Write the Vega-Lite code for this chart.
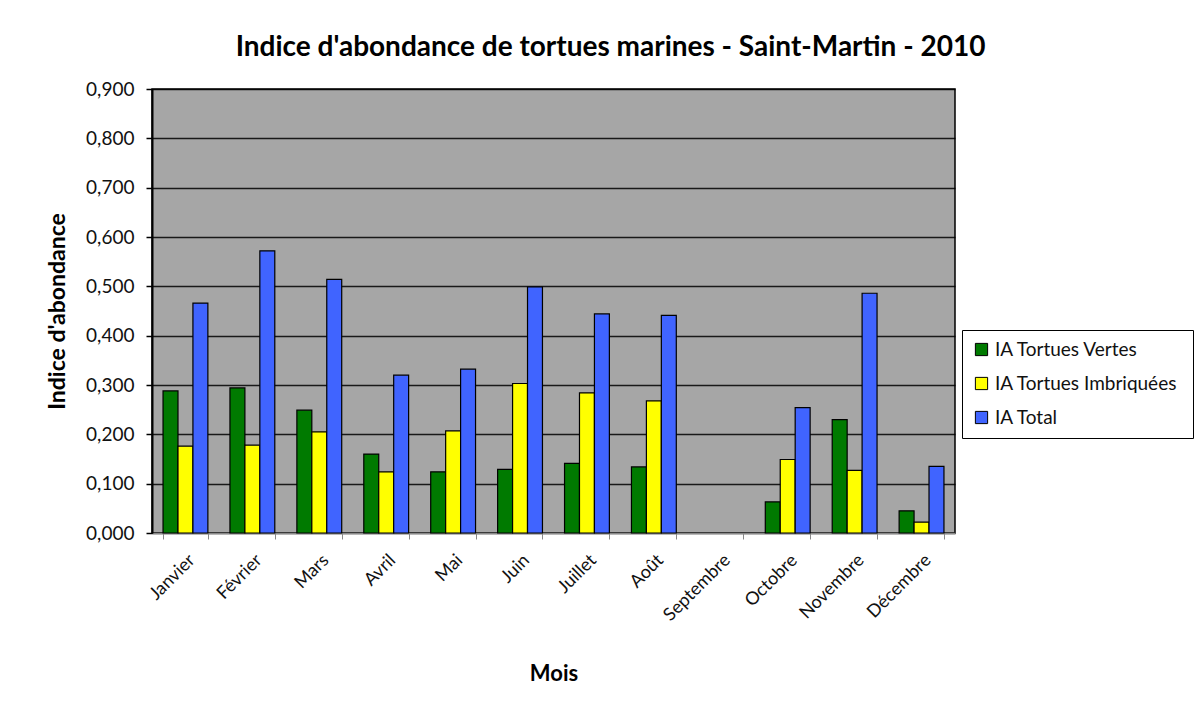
{
  "$schema": "https://vega.github.io/schema/vega-lite/v6.json",
  "width": 803,
  "height": 444,
  "autosize": {"type": "none"},
  "padding": {"left": 152, "top": 89, "right": 241, "bottom": 173},
  "background": "white",
  "title": {
    "text": "Indice d'abondance de tortues marines - Saint-Martin - 2010",
    "font": "Lato",
    "fontSize": 28,
    "fontWeight": "bold",
    "color": "black",
    "anchor": "middle",
    "dx": 57,
    "offset": 18
  },
  "data": {
    "values": [
      {"mois": "Janvier", "serie": "IA Tortues Vertes", "valeur": 0.288},
      {"mois": "Janvier", "serie": "IA Tortues  Imbriquées", "valeur": 0.176},
      {"mois": "Janvier", "serie": "IA Total", "valeur": 0.466},
      {"mois": "Février", "serie": "IA Tortues Vertes", "valeur": 0.294},
      {"mois": "Février", "serie": "IA Tortues  Imbriquées", "valeur": 0.178},
      {"mois": "Février", "serie": "IA Total", "valeur": 0.572},
      {"mois": "Mars", "serie": "IA Tortues Vertes", "valeur": 0.249},
      {"mois": "Mars", "serie": "IA Tortues  Imbriquées", "valeur": 0.205},
      {"mois": "Mars", "serie": "IA Total", "valeur": 0.514},
      {"mois": "Avril", "serie": "IA Tortues Vertes", "valeur": 0.160},
      {"mois": "Avril", "serie": "IA Tortues  Imbriquées", "valeur": 0.124},
      {"mois": "Avril", "serie": "IA Total", "valeur": 0.320},
      {"mois": "Mai", "serie": "IA Tortues Vertes", "valeur": 0.124},
      {"mois": "Mai", "serie": "IA Tortues  Imbriquées", "valeur": 0.207},
      {"mois": "Mai", "serie": "IA Total", "valeur": 0.332},
      {"mois": "Juin", "serie": "IA Tortues Vertes", "valeur": 0.129},
      {"mois": "Juin", "serie": "IA Tortues  Imbriquées", "valeur": 0.303},
      {"mois": "Juin", "serie": "IA Total", "valeur": 0.499},
      {"mois": "Juillet", "serie": "IA Tortues Vertes", "valeur": 0.141},
      {"mois": "Juillet", "serie": "IA Tortues  Imbriquées", "valeur": 0.284},
      {"mois": "Juillet", "serie": "IA Total", "valeur": 0.444},
      {"mois": "Août", "serie": "IA Tortues Vertes", "valeur": 0.134},
      {"mois": "Août", "serie": "IA Tortues  Imbriquées", "valeur": 0.268},
      {"mois": "Août", "serie": "IA Total", "valeur": 0.441},
      {"mois": "Octobre", "serie": "IA Tortues Vertes", "valeur": 0.063},
      {"mois": "Octobre", "serie": "IA Tortues  Imbriquées", "valeur": 0.149},
      {"mois": "Octobre", "serie": "IA Total", "valeur": 0.254},
      {"mois": "Novembre", "serie": "IA Tortues Vertes", "valeur": 0.230},
      {"mois": "Novembre", "serie": "IA Tortues  Imbriquées", "valeur": 0.127},
      {"mois": "Novembre", "serie": "IA Total", "valeur": 0.486},
      {"mois": "Décembre", "serie": "IA Tortues Vertes", "valeur": 0.045},
      {"mois": "Décembre", "serie": "IA Tortues  Imbriquées", "valeur": 0.022},
      {"mois": "Décembre", "serie": "IA Total", "valeur": 0.135}
    ]
  },
  "mark": {"type": "bar", "stroke": "black", "strokeWidth": 1.2},
  "encoding": {
    "x": {
      "field": "mois",
      "type": "nominal",
      "scale": {
        "domain": ["Janvier", "Février", "Mars", "Avril", "Mai", "Juin", "Juillet", "Août", "Septembre", "Octobre", "Novembre", "Décembre"],
        "paddingInner": 0.33,
        "paddingOuter": 0.165
      },
      "axis": {
        "title": "Mois",
        "titleFont": "Lato",
        "titleFontSize": 22,
        "titleFontWeight": "bold",
        "titleColor": "black",
        "titlePadding": 39,
        "labelAngle": -45,
        "labelFont": "Lato",
        "labelFontSize": 18,
        "labelColor": "#111",
        "labelPadding": 12,
        "tickBand": "extent",
        "tickColor": "#888",
        "tickSize": 6,
        "domainColor": "#888",
        "domainWidth": 1.5,
        "grid": false
      }
    },
    "xOffset": {
      "field": "serie",
      "type": "nominal",
      "scale": {"domain": ["IA Tortues Vertes", "IA Tortues  Imbriquées", "IA Total"], "paddingInner": 0}
    },
    "y": {
      "field": "valeur",
      "type": "quantitative",
      "scale": {"domain": [0, 0.9], "nice": false},
      "axis": {
        "title": "Indice d'abondance",
        "titleFont": "Lato",
        "titleFontSize": 23,
        "titleFontWeight": "bold",
        "titleColor": "black",
        "titlePadding": 16,
        "values": [0, 0.1, 0.2, 0.3, 0.4, 0.5, 0.6, 0.7, 0.8, 0.9],
        "labelExpr": "replace(format(datum.value, '.3f'), '.', ',')",
        "labelFont": "Lato",
        "labelFontSize": 19,
        "labelColor": "#111",
        "labelPadding": 12,
        "tickColor": "black",
        "tickSize": 6,
        "tickWidth": 1.5,
        "domainColor": "black",
        "domainWidth": 2,
        "grid": true,
        "gridColor": "black",
        "gridWidth": 1.5,
        "gridOpacity": 0.85
      }
    },
    "color": {
      "field": "serie",
      "type": "nominal",
      "scale": {
        "domain": ["IA Tortues Vertes", "IA Tortues  Imbriquées", "IA Total"],
        "range": ["#007a00", "#ffff00", "#4064ff"]
      },
      "legend": {
        "title": null,
        "orient": "none",
        "legendX": 810,
        "legendY": 241,
        "fillColor": "white",
        "strokeColor": "black",
        "padding": 10,
        "symbolType": "square",
        "symbolSize": 150,
        "symbolStrokeColor": "black",
        "symbolStrokeWidth": 1,
        "labelFont": "Lato",
        "labelFontSize": 19,
        "labelColor": "#111",
        "rowPadding": 14,
        "labelLimit": 300
      }
    }
  },
  "config": {
    "view": {"fill": "#a6a6a6", "stroke": "black", "strokeWidth": 1.5}
  }
}
